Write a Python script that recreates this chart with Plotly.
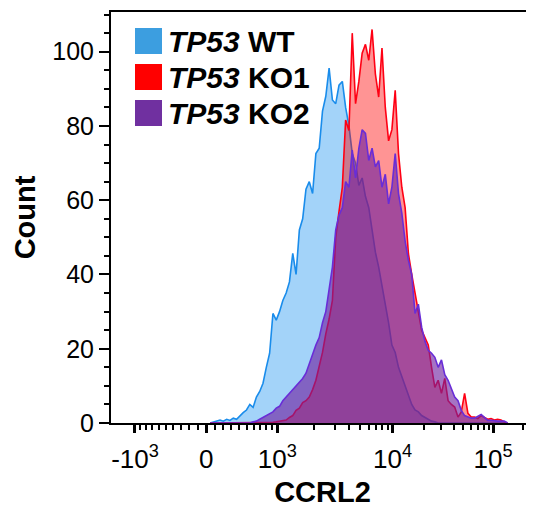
import numpy as np
import plotly.graph_objects as go

# ---------------- data (256-channel biexponential histogram) ----------------
channels = list(range(60, 242, 2))

wt_counts = [0, 0.3, 0.5, 0.8, 0.5, 1.0, 0.7, 1.3, 1.0, 2.0,
             2.8, 3.5, 5.0, 4.2, 7.0, 8.5, 10.7, 15, 18.8, 29.5,
             27.7, 30, 33, 35, 38, 45.7, 40, 52, 55, 63,
             65, 61.8, 72.6, 74, 84, 88, 95.6, 87, 86, 91,
             92, 85, 80, 72.6, 70, 64, 66, 61, 58, 52,
             46, 42, 37, 33, 27, 21, 19, 15, 12.5, 10,
             7.5, 5, 3.5, 3, 2, 1.5, 1, 0.5, 0.3, 0,
             0, 0, 0, 0, 0, 0, 0, 0, 0, 0,
             0, 0, 0, 0, 0, 0, 0, 0, 0, 0,
             0]

ko1_counts = [0, 0, 0, 0, 0, 0, 0, 0, 0, 0,
              0, 0, 0, 0, 0, 0, 0, 0, 0, 0.2,
              0.3, 0.4, 0.5, 0.8, 1.5, 2.0, 3.4, 4.0, 5.5, 6.0,
              7.0, 9.0, 11.5, 15, 19, 24, 28, 33, 50, 57,
              63.5, 81.6, 78.8, 105, 86, 92, 99.6, 102, 97.7, 106,
              94, 87.8, 101, 85, 76, 79, 89.6, 72.6, 63.5, 58,
              45.6, 40, 35, 30, 25, 23, 21, 15, 9.6, 11.5,
              8, 12, 6, 5, 4.3, 1.6, 3, 8, 2.6, 1.6,
              1.6, 1.2, 2, 1.5, 1, 1.2, 0.8, 1.0, 0.8, 0.3,
              0]

ko2_counts = [0, 0, 0, 0, 0, 0, 0, 0, 0, 0,
              0, 0, 0, 0.3, 0.5, 1.0, 1.5, 2.0, 2.5, 3.0,
              4.0, 4.5, 6, 7, 8, 9, 10, 10.7, 12, 13.4,
              16, 18.8, 21, 23, 27, 30, 36, 42, 52, 56,
              58, 65, 63.5, 73.5, 66, 74, 79, 78, 70.7, 74,
              69, 70.7, 63.5, 67, 59, 63.5, 72.6, 61.8, 56.5, 49,
              43.8, 40, 29.5, 32, 25.8, 22, 19.6, 18.8, 17.7, 15,
              17, 13, 11.5, 9.5, 7, 6, 3.4, 2, 1.6, 1.3,
              1.3, 1.8, 2.3, 1.5, 0.7, 0.7, 0.5, 0.5, 0.5, 0.5,
              0]

series_names = ["WT", "KO1", "KO2"]

x_major_values = [-1000, 0, 1000, 10000, 100000]
x_major_labels = ["-10<sup>3</sup>", "0", "10<sup>3</sup>", "10<sup>4</sup>", "10<sup>5</sup>"]
x_minor_values = ([-v for v in range(100, 1000, 100)] + list(range(100, 1000, 100)) +
                  list(range(2000, 10000, 1000)) + list(range(20000, 100000, 10000)) + [200000])

y_major_values = [0, 20, 40, 60, 80, 100]

# ---------------- biexponential (logicle-like) display scale ----------------
K_LIN = 110.0
P_SHAPE = 3.5
X_MIN = -1580.0
X_MAX = 262144.0
N_CH = 256

_dgrid = np.linspace(0, 5, 50001)
_sgrid = K_LIN * (10 ** _dgrid - P_SHAPE ** 2 * 10 ** (-_dgrid / P_SHAPE) + P_SHAPE ** 2 - 1)


def biex(v):
    v = np.asarray(v, dtype=float)
    return np.sign(v) * np.interp(np.abs(v), _sgrid, _dgrid)


def to_channel(v):
    lo, hi = biex(X_MIN), biex(X_MAX)
    return N_CH * (biex(v) - lo) / (hi - lo)


# ---------------- figure ----------------
FONT = "Arial, Liberation Sans, sans-serif"

styles = {
    "WT": dict(line="rgb(25,140,235)", fill="rgba(35,150,240,0.42)", box="rgb(60,158,224)"),
    "KO1": dict(line="rgb(255,0,20)", fill="rgba(255,0,0,0.42)", box="rgb(255,0,0)"),
    "KO2": dict(line="rgb(105,45,215)", fill="rgba(110,30,160,0.62)", box="rgb(112,48,160)"),
}

fig = go.Figure()
for name, counts in zip(series_names, [wt_counts, ko1_counts, ko2_counts]):
    st = styles[name]
    fig.add_trace(go.Scatter(
        x=channels, y=counts, mode="lines", name=name,
        line=dict(color=st["line"], width=1.6),
        fill="tozeroy", fillcolor=st["fill"], showlegend=False,
    ))

# page has an 8px body margin; target window coordinates below are in window px
PAGE_OFF = 8
WIN_W, WIN_H = 534, 509
AX_LEFT, AX_TOP, AX_BOTTOM = 111, 12, 423
W, H = WIN_W - PAGE_OFF, WIN_H - PAGE_OFF
PW, PH = WIN_W - AX_LEFT, AX_BOTTOM - AX_TOP

rows = [41, 77, 113]
for name, yc in zip(series_names, rows):
    x0, x1 = 135, 162
    y0, y1 = yc - 13, yc + 13
    fig.add_shape(type="rect", xref="paper", yref="paper",
                  x0=(x0 - AX_LEFT) / PW, x1=(x1 - AX_LEFT) / PW,
                  y0=(AX_BOTTOM - y1) / PH, y1=(AX_BOTTOM - y0) / PH,
                  fillcolor=styles[name]["box"], line=dict(width=0))
    fig.add_annotation(xref="paper", yref="paper", x=(166 - AX_LEFT) / PW,
                       y=(AX_BOTTOM - yc) / PH,
                       xanchor="left", yanchor="middle", showarrow=False,
                       text="<b><i>TP53</i> " + name + "</b>",
                       font=dict(family=FONT, size=30, color="black"))

fig.update_layout(
    width=W, height=H,
    margin=dict(l=AX_LEFT - PAGE_OFF, r=0, t=AX_TOP - PAGE_OFF, b=WIN_H - AX_BOTTOM),
    paper_bgcolor="white", plot_bgcolor="white",
    font=dict(family=FONT, color="black"),
    showlegend=False,
)
fig.update_xaxes(
    range=[0, N_CH], showgrid=False, zeroline=False, automargin=False,
    showline=True, linecolor="black", linewidth=2, mirror=True,
    tickmode="array", tickvals=to_channel(x_major_values).tolist(), ticktext=x_major_labels,
    ticks="outside", ticklen=8, tickwidth=2.5, tickcolor="black",
    ticklabelstandoff=4,
    tickfont=dict(family=FONT, size=26),
    minor=dict(tickmode="array", tickvals=to_channel(x_minor_values).tolist(),
               ticks="outside", ticklen=5, tickwidth=1.5, tickcolor="black"),
    title=dict(text="<b>CCRL2</b>", font=dict(family=FONT, size=29), standoff=8),
)
fig.update_yaxes(
    range=[0, 110.7], showgrid=False, zeroline=False, automargin=False,
    showline=True, linecolor="black", linewidth=2,
    tickmode="array", tickvals=y_major_values,
    ticks="outside", ticklen=10, tickwidth=2, tickcolor="black",
    tickfont=dict(family=FONT, size=25),
    minor=dict(dtick=5, ticks="outside", ticklen=5, tickwidth=1.5, tickcolor="black"),
    title=dict(text="<b>Count</b>", font=dict(family=FONT, size=29), standoff=8),
)

fig.write_html("out.html")
